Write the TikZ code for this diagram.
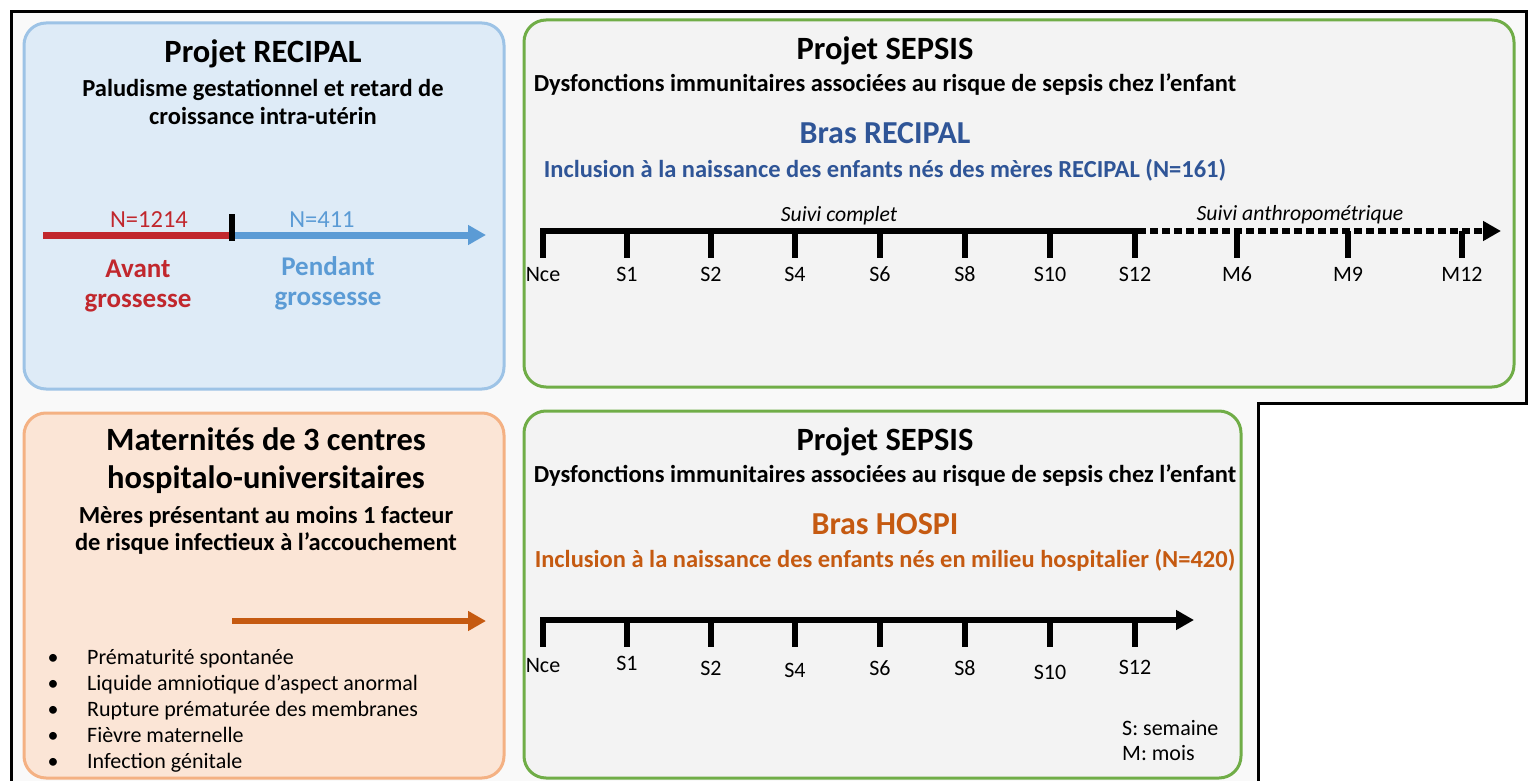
\documentclass[tikz,border=0pt]{standalone}
\usepackage{fontspec}
\setmainfont{Carlito}
\usetikzlibrary{arrows.meta, positioning}
\definecolor{cRecipalFill}{HTML}{DEEBF7}
\definecolor{cRecipalLine}{HTML}{9DC3E6}
\definecolor{cHospiFill}{HTML}{FBE5D6}
\definecolor{cHospiLine}{HTML}{F4B183}
\definecolor{cSepsisFill}{HTML}{F3F3F3}
\definecolor{cSepsisLine}{HTML}{70AD47}
\definecolor{cFrame}{HTML}{F9F9F9}
\definecolor{cRed}{HTML}{C1272D}
\definecolor{cBlue}{HTML}{5B9BD5}
\definecolor{cDarkBlue}{HTML}{2F5597}
\definecolor{cOrange}{HTML}{C55A11}
\tikzset{
  panel/.style = {
    rectangle,
    rounded corners=22pt,
    line width=3pt,
    inner sep=0pt
  },
  recipal/.style = {
    panel,
    fill=cRecipalFill,
    draw=cRecipalLine
  },
  hospi/.style = {
    panel,
    fill=cHospiFill,
    draw=cHospiLine
  },
  sepsis/.style = {
    panel,
    fill=cSepsisFill,
    draw=cSepsisLine
  },
  txt/.style = {
    anchor=base,
    inner sep=0pt
  },
  title/.style = {
    txt,
    font=\bfseries\fontsize{32.5}{38}\selectfont
  },
  subtitle/.style = {
    txt,
    font=\bfseries\fontsize{24.5}{29}\selectfont
  },
  arm/.style = {
    txt,
    font=\bfseries\fontsize{32}{38}\selectfont
  },
  period/.style = {
    txt,
    font=\bfseries\fontsize{27}{32}\selectfont
  },
  count/.style = {
    txt,
    font=\fontsize{24.5}{29}\selectfont
  },
  small/.style = {
    txt,
    font=\fontsize{22}{26}\selectfont
  },
  follow/.style = {
    txt,
    font=\itshape\fontsize{21.7}{26}\selectfont
  },
  axis/.style = {
    draw,
    line width=6.5pt,
    color=black
  },
  tickmark/.style = {
    draw,
    line width=6.5pt,
    color=black
  },
  tip/.style = {
    -{Triangle[length=18pt, width=19pt]}
  },
}

\begin{document}
\begin{tikzpicture}[x=1pt, y=-1pt]
  \useasboundingbox (0,0) rectangle (1529,781);
  \clip (0,0) rectangle (1529,781);
  \fill[white] (0,0) rectangle (1529,781);
  % outer frame
  \fill[cFrame] (11,12) -- (1526,12) -- (1526,403) -- (1258,403) -- (1258,790) -- (11,790) -- cycle;
  \draw[line width=3pt] (11,790) -- (11,12) -- (1526,12) -- (1526,403) -- (1258,403) -- (1258,790);

  % panels
  \node [recipal, minimum width=480pt, minimum height=366pt] (recipal) at (264,206) {};
  \node [sepsis, minimum width=990pt, minimum height=367pt] (sepsis-top) at (1019,203.5) {};
  \node [hospi, minimum width=480pt, minimum height=365pt] (hospi) at (264,595.5) {};
  \node [sepsis, minimum width=717pt, minimum height=367pt] (sepsis-bottom) at (882.5,594.5) {};

  % RECIPAL panel
  \node [title] (recipal-title) at (263,63) {Projet RECIPAL};
  \node [subtitle] (recipal-sub-1) at (263,97) {Paludisme gestationnel et retard de};
  \node [subtitle] (recipal-sub-2) at (263,125) {croissance intra-utérin};
  \coordinate (pal-start) at (43,235);
  \coordinate (pal-split) at (232,235);
  \coordinate (pal-end) at (486,235);
  \draw [line width=7pt, cRed] (pal-start) -- (pal-split);
  \draw [line width=7pt, cBlue, tip] (pal-split) -- (pal-end);
  \draw [line width=6pt] ([yshift=-6pt]pal-split) -- ([yshift=21pt]pal-split);
  \node [count, text=cRed] (n-before) at (149,227) {N=1214};
  \node [count, text=cBlue] (n-during) at (322,227) {N=411};
  \node [period, text=cRed] (before-1) at (138,277) {Avant};
  \node [period, text=cRed] (before-2) at (138,307) {grossesse};
  \node [period, text=cBlue] (during-1) at (328,275) {Pendant};
  \node [period, text=cBlue] (during-2) at (328,305) {grossesse};

  % SEPSIS, bras RECIPAL
  \node [title] (top-title) at (885,60) {Projet SEPSIS};
  \node [subtitle] (top-sub) at (885,92) {Dysfonctions immunitaires associées au risque de sepsis chez l’enfant};
  \node [arm, text=cDarkBlue] (top-arm) at (885,144) {Bras RECIPAL};
  \node [subtitle, text=cDarkBlue] (top-incl) at (885,177) {Inclusion à la naissance des enfants nés des mères RECIPAL (N=161)};
  \coordinate (top-start) at (540,231);
  \coordinate (top-s12) at (1138,231);
  \coordinate (top-end) at (1501,231);
  \path [axis] (top-start) -- (top-s12);
  \path [axis, dash pattern=on 8pt off 4pt, tip] (top-s12) -- (top-end);
  \foreach \x/\lab [count=\i] in {543/Nce, 627/S1, 711/S2, 795/S4, 880/S6, 965/S8, 1050/S10, 1135/S12, 1237/M6, 1348/M9, 1462/M12} {
    \coordinate (top-t\i) at (\x,231);
    \path [tickmark] (top-t\i) -- ++(0,27);
    \node [small] (top-l\i) at (\x,281) {\lab};
  }
  \node [follow] (top-full) at (839,221) {Suivi complet};
  \node [follow] (top-anthro) at (1300,220) {Suivi anthropométrique};

  % maternites
  \node [title] (hospi-title-1) at (266,450) {Maternités de 3 centres};
  \node [title] (hospi-title-2) at (266,488) {hospitalo-universitaires};
  \node [subtitle] (hospi-sub-1) at (266,523) {Mères présentant au moins 1 facteur};
  \node [subtitle] (hospi-sub-2) at (266,550) {de risque infectieux à l’accouchement};
  \coordinate (hospi-start) at (232,621);
  \coordinate (hospi-end) at (486,621);
  \draw [line width=6pt, cOrange, tip] (hospi-start) -- (hospi-end);
  \foreach \item [count=\i] in {Prématurité spontanée, Liquide amniotique d’aspect anormal, Rupture prématurée des membranes, Fièvre maternelle, Infection génitale} {
    \node [small] (dot-\i) at (53,{639+25.8*\i}) {•};
    \node [small, anchor=base west] (risk-\i) at (87,{639+25.8*\i}) {\item};
  }

  % SEPSIS, bras HOSPI
  \node [title] (bot-title) at (885,450) {Projet SEPSIS};
  \node [subtitle] (bot-sub) at (885,482) {Dysfonctions immunitaires associées au risque de sepsis chez l’enfant};
  \node [arm, text=cOrange] (bot-arm) at (885,534) {Bras HOSPI};
  \node [subtitle, text=cOrange] (bot-incl) at (885,567) {Inclusion à la naissance des enfants nés en milieu hospitalier (N=420)};
  \coordinate (bot-start) at (540,620);
  \coordinate (bot-end) at (1194,620);
  \path [axis, tip] (bot-start) -- (bot-end);
  \foreach \x/\lab/\b [count=\i] in {543/Nce/672, 627/S1/670, 711/S2/675, 795/S4/677, 880/S6/675, 965/S8/675, 1050/S10/679, 1135/S12/674} {
    \coordinate (bot-t\i) at (\x,620);
    \path [tickmark] (bot-t\i) -- ++(0,27);
    \node [small] (bot-l\i) at (\x,\b) {\lab};
  }
  \node [small, anchor=base west] (key-s) at (1122,735) {S: semaine};
  \node [small, anchor=base west] (key-m) at (1122,760) {M: mois};
\end{tikzpicture}
\end{document}
